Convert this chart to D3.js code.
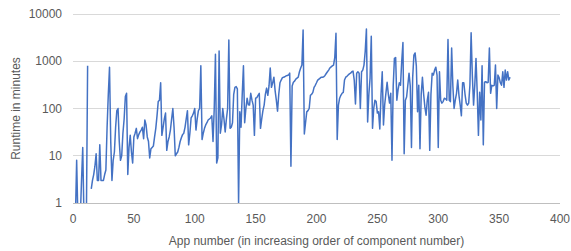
<!DOCTYPE html>
<html lang="en">
<head>
<meta charset="utf-8">
<title>Runtime per app</title>
<script src="https://d3js.org/d3.v7.min.js"></script>
<style>
  body { margin: 0; background: #fff; }
  text { font-family: "Liberation Sans", Arial, sans-serif; fill: #595959; }
</style>
</head>
<body>
<div id="chart"></div>
<script>
// runtime (minutes) per app, apps 1..359; null = no value plotted
const runtime = [
  0.3, 0.5, 8, 0.5, 0.3, 0.5, 3, 15, 0.5, 0.3,
  0.5, 800, null, null, 2, 3, 4, 6, 11, 3,
  3, 17, 3, 3, 3, 4, 5, 40, 200, 750,
  20, 3, 8, 12, 40, 90, 100, 20, 8, 10,
  30, 60, 180, 210, 4, 15, 27, 12, 7, 25,
  30, 38, 23, 28, 32, 35, 40, 23, 57, 45,
  25, 20, 9, 14, 15, 16, 25, 38, 70, 140,
  150, 350, 27, 40, 60, 80, 13, 20, 25, 35,
  60, 100, 40, 10, 11, 12, 15, 20, 24, 28,
  30, 40, 60, 90, 17, 30, 63, 70, 80, 100,
  35, 60, 90, 100, 800, 22, 30, 38, 45, 50,
  57, 60, 63, 70, 20, 100, 1400, 7, 9, 1650,
  30, 45, 100, 60, 32, 60, 100, 2800, 38, 40,
  50, 200, 280, 290, 260, 1, 85, 40, 200, 800,
  50, 100, 165, 120, 118, 210, 150, 118, 27, 165,
  170, 190, 210, 38, 60, 90, 118, 200, 270, 190,
  300, 720, 280, 350, 460, 240, 150, 88, 200, 350,
  400, 450, 460, 470, 490, 500, 510, 560, 6, 300,
  360, 380, 420, 440, 460, 600, 720, 830, 4600, 29,
  50, 85, 90, 100, 190, 200, 220, 280, 310, 350,
  400, 420, 440, 460, 460, 470, 500, 550, 600, 650,
  720, 760, 800, 830, 1200, 3900, 22, 118, 165, 190,
  210, 220, 400, 460, 480, 510, 540, 560, 600, 620,
  400, 125, 560, 600, 560, 100, 600, 650, 830, 1600,
  4800, 52, 200, 440, 3400, 38, 100, 150, 140, 80,
  85, 37, 200, 600, 45, 120, 210, 360, 200, 130,
  210, 8, 300, 1150, 1200, 150, 250, 350, 310, 1000,
  2500, 11, 150, 175, 310, 560, 300, 15, 460, 1350,
  1500, 800, 85, 310, 14, 200, 460, 200, 108, 72,
  150, 220, 13, 200, 560, 510, 650, 750, 510, 15,
  600, 150, 130, 140, 165, 160, 150, 2900, 150, 140,
  1900, 300, 100, 150, 210, 400, 190, 120, 70, 350,
  350, 200, 130, 118, 130, 310, 4000, 500, 118, 310,
  1150, 220, 27, 220, 57, 800, 17, 360, 370, 350,
  360, 1900, 210, 310, 300, 310, 830, 100, 510, 450,
  350, 310, 600, 280, 650, 400, 600, 400, 460
];
const xTicks = [0, 50, 100, 150, 200, 250, 300, 350, 400];
const yTicks = [1, 10, 100, 1000, 10000];

const W = 571, H = 251;
const plotLeft = 73, plotRight = 560, plotTop = 14, plotBottom = 203;

const svg = d3.select("#chart").append("svg")
    .attr("width", W).attr("height", H);

const x = d3.scaleLinear().domain([0, 400]).range([plotLeft, plotRight]);
const y = d3.scaleLog().domain([1, 10000]).range([plotBottom, plotTop]);

// horizontal gridlines
svg.append("g")
    .selectAll("line")
    .data(yTicks)
    .join("line")
    .attr("x1", plotLeft).attr("x2", plotRight)
    .attr("y1", d => y(d)).attr("y2", d => y(d))
    .attr("stroke", d => d === 1 ? "#bfbfbf" : "#d9d9d9")
    .attr("stroke-width", 1)
    .attr("shape-rendering", "crispEdges");

svg.append("g")
    .selectAll("text")
    .data(yTicks)
    .join("text")
    .attr("x", 62).attr("y", d => y(d) + 4)
    .attr("text-anchor", "end")
    .attr("font-size", 12)
    .text(d => d);

svg.append("g")
    .selectAll("text")
    .data(xTicks)
    .join("text")
    .attr("x", d => x(d)).attr("y", 223)
    .attr("text-anchor", "middle")
    .attr("font-size", 12)
    .text(d => d);

svg.append("clipPath").attr("id", "plot")
    .append("rect")
    .attr("x", plotLeft).attr("y", plotTop - 2)
    .attr("width", plotRight - plotLeft).attr("height", plotBottom - plotTop + 2);

const line = d3.line()
    .defined(d => d !== null)
    .x((d, i) => x(i + 1))
    .y(d => y(d));

svg.append("path")
    .datum(runtime)
    .attr("clip-path", "url(#plot)")
    .attr("fill", "none")
    .attr("stroke", "#4472c4")
    .attr("stroke-width", 1.5)
    .attr("stroke-linejoin", "round")
    .attr("d", line);

svg.append("text")
    .attr("x", (plotLeft + plotRight) / 2).attr("y", 245)
    .attr("text-anchor", "middle")
    .attr("font-size", 12)
    .text("App number (in increasing order of component number)");

svg.append("text")
    .attr("transform", "translate(20," + (plotTop + plotBottom) / 2 + ") rotate(-90)")
    .attr("text-anchor", "middle")
    .attr("font-size", 12)
    .text("Runtime in minutes");
</script>
</body>
</html>
